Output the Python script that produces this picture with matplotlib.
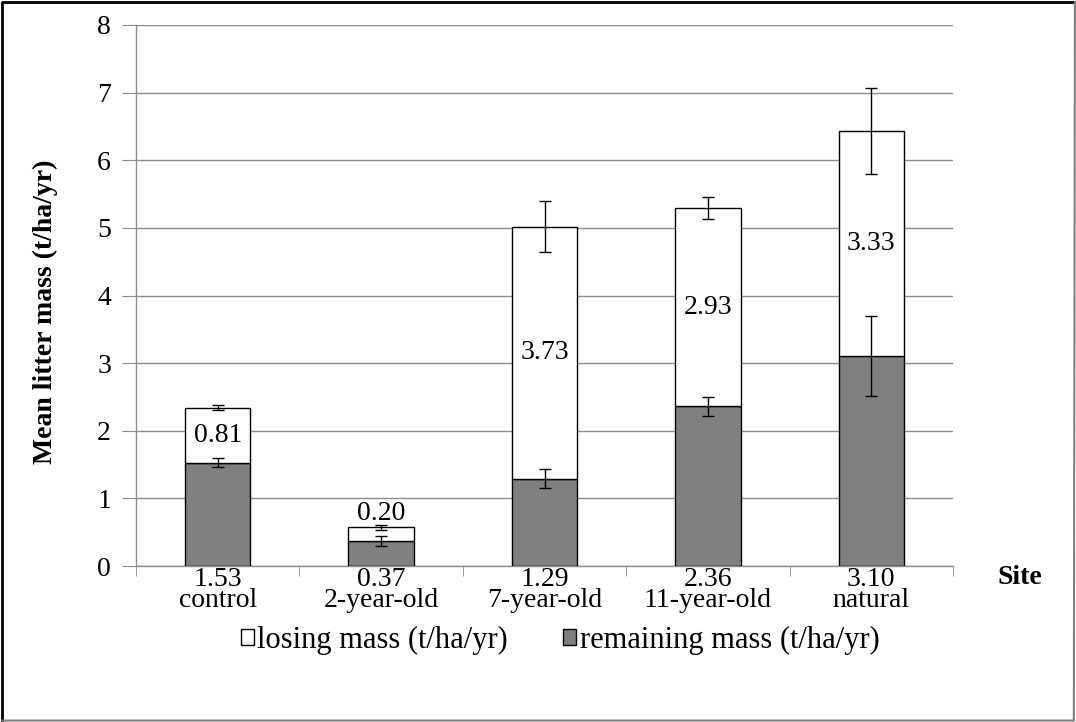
import matplotlib

matplotlib.use("Agg")
import matplotlib.pyplot as plt
import numpy as np
from matplotlib.lines import Line2D
from matplotlib.patches import Patch

sites = ["control", "2-year-old", "7-year-old", "11-year-old", "natural"]
remaining = [1.53, 0.37, 1.29, 2.36, 3.10]
losing = [0.81, 0.20, 3.73, 2.93, 3.33]
remaining_err = [0.07, 0.08, 0.14, 0.14, 0.59]
total_err = [0.04, 0.04, 0.38, 0.16, 0.64]

plt.rcParams["font.family"] = ["Liberation Serif", "DejaVu Serif"]
FS = 20
GRID = "#8c8c8c"
W, H = 1076, 722

fig = plt.figure(figsize=(W / 100, H / 100), dpi=100)
ax = fig.add_axes([136 / W, 1 - 566 / H, 817 / W, 541 / H])

x = np.arange(len(sites))
width = 0.40
rem = np.array(remaining)
los = np.array(losing)
total = rem + los

ax.bar(x, rem, width, color="#808080", edgecolor="black", linewidth=1, zorder=3)
ax.bar(x, los, width, bottom=rem, color="white", edgecolor="black", linewidth=1, zorder=3)
ax.errorbar(x, rem, yerr=remaining_err, fmt="none", ecolor="black", elinewidth=1,
            capsize=4, capthick=1, zorder=4)
ax.errorbar(x, total, yerr=total_err, fmt="none", ecolor="black", elinewidth=1,
            capsize=4, capthick=1, zorder=4)

# lost fraction written in the middle of the white segment (above it when too thin)
for xi, r, l in zip(x, rem, los):
    y = r + l + 0.21 if l < 0.5 else r + l / 2
    ax.text(xi, y, f"{l:.2f}", ha="center", va="center", fontsize=FS, zorder=5)

ax.set_xlim(-0.5, len(sites) - 0.5)
ax.set_ylim(0, 8)
ax.set_yticks(range(0, 9))
ax.yaxis.grid(True, color=GRID, linewidth=1, zorder=0)
ax.set_axisbelow(True)
ax.tick_params(axis="y", length=10, color=GRID, labelsize=FS, pad=8)

ax.set_xticks(x)
ax.set_xticklabels([f"{r:.2f}\n{s}" for r, s in zip(remaining, sites)], fontsize=FS,
                   linespacing=0.78)
ax.tick_params(axis="x", which="major", length=0, pad=1)
ax.set_xticks(np.arange(-0.5, len(sites)), minor=True)
ax.tick_params(axis="x", which="minor", length=7, color=GRID, direction="out")

for side in ["top", "right"]:
    ax.spines[side].set_visible(False)
for side in ["left", "bottom"]:
    ax.spines[side].set_color(GRID)
    ax.spines[side].set_linewidth(1)

ax.set_ylabel("Mean litter mass (t/ha/yr)", fontsize=FS, fontweight="bold")
ax.yaxis.set_label_coords((58 - 136) / 817, (566 - 312) / 541)
fig.text(1020 / W, 1 - 577 / H, "Site", fontsize=FS, fontweight="bold",
         ha="center", va="center")

handles = [
    Patch(facecolor="white", edgecolor="black", linewidth=1, label="losing mass (t/ha/yr)"),
    Patch(facecolor="#808080", edgecolor="black", linewidth=1, label="remaining mass (t/ha/yr)"),
]
fig.legend(handles=handles, loc="center", bbox_to_anchor=(560 / W, 1 - 640 / H), ncol=2,
           frameon=False, fontsize=22, handlelength=0.42, handleheight=0.42,
           handletextpad=0.12, columnspacing=1.8)

# outer frame: dark on top/left, lighter on right/bottom
fig.add_artist(Line2D([0.002, 0.002, 0.999], [0.002, 0.997, 0.997],
                      transform=fig.transFigure, color="black", linewidth=2))
fig.add_artist(Line2D([0.999, 0.998, 0.002], [0.997, 0.002, 0.002],
                      transform=fig.transFigure, color="#808080", linewidth=1.5))

fig.savefig("out.png", dpi=100)
